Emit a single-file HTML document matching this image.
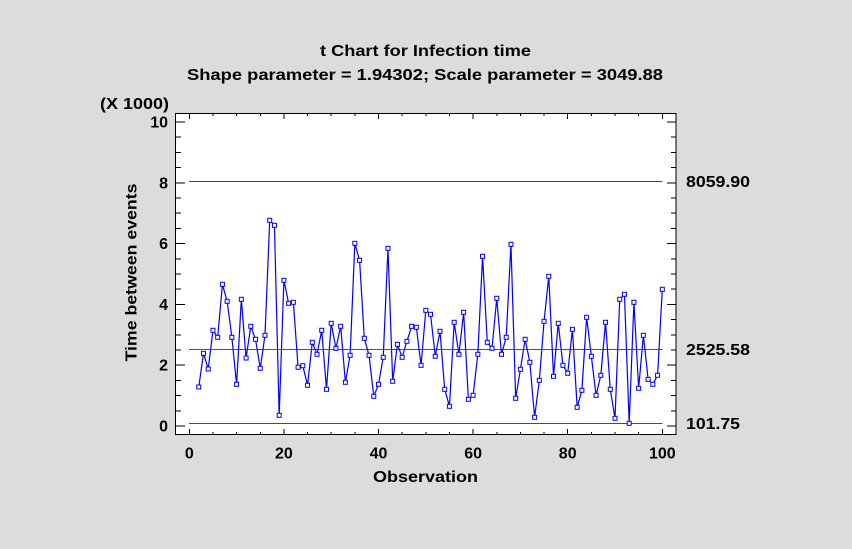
<!DOCTYPE html>
<html>
<head>
<meta charset="utf-8">
<style>
html,body{margin:0;padding:0;background:#dcdcdc;}
svg{display:block;}
text{font-family:"Liberation Sans",Arial,sans-serif;font-weight:bold;fill:#000;}
</style>
</head>
<body>
<svg width="852" height="549" viewBox="0 0 852 549" xmlns="http://www.w3.org/2000/svg">
<rect x="0" y="0" width="852" height="549" fill="#dcdcdc"/>
<!-- plot area -->
<rect x="175.5" y="113.5" width="500.5" height="321" fill="#fff" stroke="#000" stroke-width="1.2" shape-rendering="crispEdges"/>

<!-- ticks -->
<g stroke="#000" stroke-width="1" shape-rendering="crispEdges" fill="none">
<path d="M176 426h9M176 410.8h5M176 395.6h5M176 380.4h5M176 365.2h9M176 350h5M176 334.8h5M176 319.6h5M176 304.4h9M176 289.2h5M176 274h5M176 258.8h5M176 243.6h9M176 228.4h5M176 213.2h5M176 198h5M176 182.8h9M176 167.6h5M176 152.4h5M176 137.2h5M176 122h9"/>
<path d="M676 426h-9M676 410.8h-5M676 395.6h-5M676 380.4h-5M676 365.2h-9M676 350h-5M676 334.8h-5M676 319.6h-5M676 304.4h-9M676 289.2h-5M676 274h-5M676 258.8h-5M676 243.6h-9M676 228.4h-5M676 213.2h-5M676 198h-5M676 182.8h-9M676 167.6h-5M676 152.4h-5M676 137.2h-5M676 122h-9"/>
<path d="M189.3 435v-6M212.95 435v-3M236.6 435v-3M260.25 435v-3M283.9 435v-6M307.55 435v-3M331.2 435v-3M354.85 435v-3M378.5 435v-6M402.15 435v-3M425.8 435v-3M449.45 435v-3M473.1 435v-6M496.75 435v-3M520.4 435v-3M544.05 435v-3M567.7 435v-6M591.35 435v-3M615 435v-3M638.65 435v-3M662.3 435v-6"/>
<path d="M189.3 113v6M212.95 113v3M236.6 113v3M260.25 113v3M283.9 113v6M307.55 113v3M331.2 113v3M354.85 113v3M378.5 113v6M402.15 113v3M425.8 113v3M449.45 113v3M473.1 113v6M496.75 113v3M520.4 113v3M544.05 113v3M567.7 113v6M591.35 113v3M615 113v3M638.65 113v3M662.3 113v6"/>
</g>

<!-- control lines -->
<g shape-rendering="crispEdges">
<line x1="189" y1="181.5" x2="662.5" y2="181.5" stroke="#ff0000" stroke-width="1"/>
<line x1="189" y1="349.5" x2="662.5" y2="349.5" stroke="#b02a2a" stroke-width="1.2"/>
<line x1="189" y1="423.5" x2="662.5" y2="423.5" stroke="#ff0000" stroke-width="1"/>
</g>

<!-- series -->
<polyline fill="none" stroke="#0000ff" stroke-width="1.2" stroke-linejoin="round" points="
198.76,387 203.49,353.3 208.22,369 212.95,330.3 217.68,337.3 222.41,284.3 227.14,301.3 231.87,337.3 236.6,384.3 241.33,299.3
246.06,358 250.79,326.3 255.52,339.3 260.25,368.3 264.98,335.3 269.71,220.3 274.44,225.3 279.17,415.3 283.9,280.3 288.63,303.3
293.36,302.3 298.09,367.3 302.82,365.7 307.55,385.3 312.28,342.3 317.01,354.3 321.74,330.3 326.47,389.3 331.2,323.3 335.93,348.3
340.66,326.3 345.39,382.3 350.12,355.3 354.85,243.3 359.58,260.3 364.31,338.3 369.04,355.3 373.77,396.3 378.5,384.3 383.23,357.3
387.96,248.3 392.69,381.3 397.42,344.3 402.15,357.3 406.88,341.3 411.61,326.3 416.34,327.3 421.07,365.3 425.8,310.3 430.53,314.3
435.26,356.3 439.99,331.3 444.72,389.3 449.45,406.3 454.18,322.3 458.91,354.3 463.64,312.3 468.37,399.3 473.1,395.3 477.83,354.3
482.56,256.3 487.29,342.3 492.02,348.3 496.75,298.3 501.48,354.3 506.21,337.3 510.94,244.3 515.67,398.3 520.4,369.3 525.13,339.3
529.86,362.3 534.59,417.3 539.32,380.3 544.05,321.3 548.78,276.3 553.51,376.3 558.24,323.3 562.97,365.3 567.7,373.3 572.43,329.3
577.16,407.3 581.89,390.3 586.62,317.3 591.35,356.3 596.08,395.3 600.81,375.3 605.54,322.3 610.27,389.3 615,418.3 619.73,299.3
624.46,294.3 629.19,423.3 633.92,302.3 638.65,388.3 643.38,335.3 648.11,379.3 652.84,384.3 657.57,375.3 662.3,289.3"/>
<g fill="#fff" stroke="#0000ff" stroke-width="1">
<rect x="196.76" y="385" width="4" height="4"/><rect x="201.49" y="351.3" width="4" height="4"/><rect x="206.22" y="367" width="4" height="4"/><rect x="210.95" y="328.3" width="4" height="4"/><rect x="215.68" y="335.3" width="4" height="4"/>
<rect x="220.41" y="282.3" width="4" height="4"/><rect x="225.14" y="299.3" width="4" height="4"/><rect x="229.87" y="335.3" width="4" height="4"/><rect x="234.6" y="382.3" width="4" height="4"/><rect x="239.33" y="297.3" width="4" height="4"/>
<rect x="244.06" y="356" width="4" height="4"/><rect x="248.79" y="324.3" width="4" height="4"/><rect x="253.52" y="337.3" width="4" height="4"/><rect x="258.25" y="366.3" width="4" height="4"/><rect x="262.98" y="333.3" width="4" height="4"/>
<rect x="267.71" y="218.3" width="4" height="4"/><rect x="272.44" y="223.3" width="4" height="4"/><rect x="277.17" y="413.3" width="4" height="4"/><rect x="281.9" y="278.3" width="4" height="4"/><rect x="286.63" y="301.3" width="4" height="4"/>
<rect x="291.36" y="300.3" width="4" height="4"/><rect x="296.09" y="365.3" width="4" height="4"/><rect x="300.82" y="363.7" width="4" height="4"/><rect x="305.55" y="383.3" width="4" height="4"/><rect x="310.28" y="340.3" width="4" height="4"/>
<rect x="315.01" y="352.3" width="4" height="4"/><rect x="319.74" y="328.3" width="4" height="4"/><rect x="324.47" y="387.3" width="4" height="4"/><rect x="329.2" y="321.3" width="4" height="4"/><rect x="333.93" y="346.3" width="4" height="4"/>
<rect x="338.66" y="324.3" width="4" height="4"/><rect x="343.39" y="380.3" width="4" height="4"/><rect x="348.12" y="353.3" width="4" height="4"/><rect x="352.85" y="241.3" width="4" height="4"/><rect x="357.58" y="258.3" width="4" height="4"/>
<rect x="362.31" y="336.3" width="4" height="4"/><rect x="367.04" y="353.3" width="4" height="4"/><rect x="371.77" y="394.3" width="4" height="4"/><rect x="376.5" y="382.3" width="4" height="4"/><rect x="381.23" y="355.3" width="4" height="4"/>
<rect x="385.96" y="246.3" width="4" height="4"/><rect x="390.69" y="379.3" width="4" height="4"/><rect x="395.42" y="342.3" width="4" height="4"/><rect x="400.15" y="355.3" width="4" height="4"/><rect x="404.88" y="339.3" width="4" height="4"/>
<rect x="409.61" y="324.3" width="4" height="4"/><rect x="414.34" y="325.3" width="4" height="4"/><rect x="419.07" y="363.3" width="4" height="4"/><rect x="423.8" y="308.3" width="4" height="4"/><rect x="428.53" y="312.3" width="4" height="4"/>
<rect x="433.26" y="354.3" width="4" height="4"/><rect x="437.99" y="329.3" width="4" height="4"/><rect x="442.72" y="387.3" width="4" height="4"/><rect x="447.45" y="404.3" width="4" height="4"/><rect x="452.18" y="320.3" width="4" height="4"/>
<rect x="456.91" y="352.3" width="4" height="4"/><rect x="461.64" y="310.3" width="4" height="4"/><rect x="466.37" y="397.3" width="4" height="4"/><rect x="471.1" y="393.3" width="4" height="4"/><rect x="475.83" y="352.3" width="4" height="4"/>
<rect x="480.56" y="254.3" width="4" height="4"/><rect x="485.29" y="340.3" width="4" height="4"/><rect x="490.02" y="346.3" width="4" height="4"/><rect x="494.75" y="296.3" width="4" height="4"/><rect x="499.48" y="352.3" width="4" height="4"/>
<rect x="504.21" y="335.3" width="4" height="4"/><rect x="508.94" y="242.3" width="4" height="4"/><rect x="513.67" y="396.3" width="4" height="4"/><rect x="518.4" y="367.3" width="4" height="4"/><rect x="523.13" y="337.3" width="4" height="4"/>
<rect x="527.86" y="360.3" width="4" height="4"/><rect x="532.59" y="415.3" width="4" height="4"/><rect x="537.32" y="378.3" width="4" height="4"/><rect x="542.05" y="319.3" width="4" height="4"/><rect x="546.78" y="274.3" width="4" height="4"/>
<rect x="551.51" y="374.3" width="4" height="4"/><rect x="556.24" y="321.3" width="4" height="4"/><rect x="560.97" y="363.3" width="4" height="4"/><rect x="565.7" y="371.3" width="4" height="4"/><rect x="570.43" y="327.3" width="4" height="4"/>
<rect x="575.16" y="405.3" width="4" height="4"/><rect x="579.89" y="388.3" width="4" height="4"/><rect x="584.62" y="315.3" width="4" height="4"/><rect x="589.35" y="354.3" width="4" height="4"/><rect x="594.08" y="393.3" width="4" height="4"/>
<rect x="598.81" y="373.3" width="4" height="4"/><rect x="603.54" y="320.3" width="4" height="4"/><rect x="608.27" y="387.3" width="4" height="4"/><rect x="613" y="416.3" width="4" height="4"/><rect x="617.73" y="297.3" width="4" height="4"/>
<rect x="622.46" y="292.3" width="4" height="4"/><rect x="627.19" y="421.3" width="4" height="4"/><rect x="631.92" y="300.3" width="4" height="4"/><rect x="636.65" y="386.3" width="4" height="4"/><rect x="641.38" y="333.3" width="4" height="4"/>
<rect x="646.11" y="377.3" width="4" height="4"/><rect x="650.84" y="382.3" width="4" height="4"/><rect x="655.57" y="373.3" width="4" height="4"/><rect x="660.3" y="287.3" width="4" height="4"/>
</g>

<!-- titles -->
<text x="425.5" y="56" font-size="16" text-anchor="middle" textLength="211" lengthAdjust="spacingAndGlyphs">t Chart for Infection time</text>
<text x="425" y="80" font-size="16" text-anchor="middle" textLength="476" lengthAdjust="spacingAndGlyphs">Shape parameter = 1.94302; Scale parameter = 3049.88</text>

<!-- y axis -->
<text x="100" y="109" font-size="16" textLength="69" lengthAdjust="spacingAndGlyphs">(X 1000)</text>
<g font-size="16" text-anchor="end">
<text x="168" y="127.5">10</text>
<text x="168" y="188.3">8</text>
<text x="168" y="249.1">6</text>
<text x="168" y="309.9">4</text>
<text x="168" y="370.7">2</text>
<text x="168" y="431.5">0</text>
</g>
<text transform="translate(136.5,272.5) rotate(-90)" font-size="16" text-anchor="middle" textLength="178" lengthAdjust="spacingAndGlyphs">Time between events</text>

<!-- x axis -->
<g font-size="16" text-anchor="middle">
<text x="189.3" y="458.5">0</text>
<text x="283.9" y="458.5">20</text>
<text x="378.5" y="458.5">40</text>
<text x="473.1" y="458.5">60</text>
<text x="567.7" y="458.5">80</text>
<text x="662.3" y="458.5">100</text>
</g>
<text x="425.5" y="482" font-size="16" text-anchor="middle" textLength="105" lengthAdjust="spacingAndGlyphs">Observation</text>

<!-- right labels -->
<text x="686" y="187" font-size="16" textLength="64" lengthAdjust="spacingAndGlyphs">8059.90</text>
<text x="686" y="355" font-size="16" textLength="64" lengthAdjust="spacingAndGlyphs">2525.58</text>
<text x="686" y="429" font-size="16" textLength="54" lengthAdjust="spacingAndGlyphs">101.75</text>
</svg>
</body>
</html>
